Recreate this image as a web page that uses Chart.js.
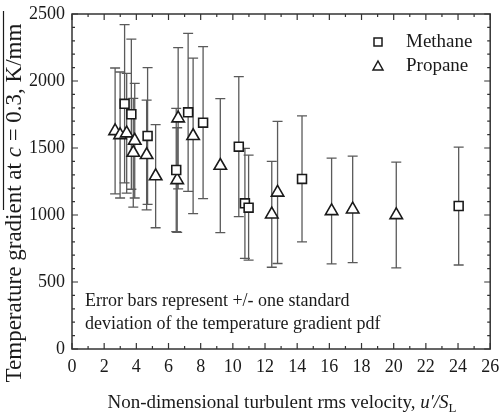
<!DOCTYPE html>
<html><head><meta charset="utf-8">
<script src="https://cdn.jsdelivr.net/npm/chart.js@4.4.0/dist/chart.umd.min.js"></script>
<style>html,body{margin:0;padding:0;background:#fff;}</style>
</head><body>
<canvas id="c" width="499" height="416"></canvas>
<script>
// ---- data ----
const methaneX  = [3.27, 3.69, 4.70, 6.48, 7.22, 8.15, 10.37, 10.75, 10.98, 14.30, 24.04];
const methaneY  = [1830, 1752, 1590, 1336, 1766, 1689, 1510, 1087, 1055, 1269, 1067];
const methaneSD = [590, 560, 510, 460, 590, 567, 522, 410, 392, 470, 440];

const propaneX  = [2.68, 2.99, 3.40, 3.81, 3.90, 4.64, 5.20, 6.54, 6.60, 7.53, 9.22, 12.42, 12.78, 16.14, 17.45, 20.16];
const propaneY  = [1627, 1597, 1610, 1465, 1555, 1448, 1290, 1261, 1722, 1590, 1368, 1005, 1168, 1030, 1042, 1000];
const propaneSD = [470, 470, 447, 406, 428, 410, 385, 390, 527, 580, 500, 395, 530, 395, 397, 395];

const seriesNames = ['Methane', 'Propane'];
const xTickMax = 26, xTickStep = 2;
const yTickMax = 2500, yTickStep = 500;
const noteLines = ['Error bars represent +/- one standard', 'deviation of the temperature gradient pdf'];

const SERIF = '"Liberation Serif", "Times New Roman", serif';
const INK = '#1a1a1a';

const pts = (xs, ys) => xs.map((v, i) => ({x: v, y: ys[i]}));

const decor = {
  id: 'decor',
  beforeDatasetsDraw(chart) {
    const {ctx, scales: {x, y}} = chart;
    ctx.save();
    ctx.strokeStyle = '#5a5a5a';
    ctx.lineWidth = 1.3;
    chart.data.datasets.forEach(ds => {
      ds.data.forEach((p, i) => {
        const px = x.getPixelForValue(p.x);
        const t = y.getPixelForValue(p.y + ds.errors[i]);
        const b = y.getPixelForValue(p.y - ds.errors[i]);
        ctx.beginPath();
        ctx.moveTo(px, t); ctx.lineTo(px, b);
        ctx.moveTo(px - 5, t); ctx.lineTo(px + 5, t);
        ctx.moveTo(px - 5, b); ctx.lineTo(px + 5, b);
        ctx.stroke();
      });
    });
    ctx.restore();
  },
  afterDraw(chart) {
    const {ctx, chartArea: a, scales: {x, y}} = chart;
    ctx.save();
    // frame
    ctx.strokeStyle = '#333';
    ctx.lineWidth = 1.5;
    ctx.strokeRect(a.left, a.top, a.right - a.left, a.bottom - a.top);
    // inward ticks
    ctx.lineWidth = 1.2;
    ctx.beginPath();
    for (let v = 0; v <= xTickMax; v += 1) {
      const px = x.getPixelForValue(v);
      const len = (v % xTickStep === 0) ? 6 : 3;
      ctx.moveTo(px, a.bottom); ctx.lineTo(px, a.bottom - len);
      ctx.moveTo(px, a.top); ctx.lineTo(px, a.top + len);
    }
    for (let v = 0; v <= yTickMax; v += 100) {
      const py = y.getPixelForValue(v);
      const len = (v % yTickStep === 0) ? 6 : 3;
      ctx.moveTo(a.left, py); ctx.lineTo(a.left + len, py);
      ctx.moveTo(a.right, py); ctx.lineTo(a.right - len, py);
    }
    ctx.stroke();

    // legend
    ctx.fillStyle = INK;
    ctx.strokeStyle = INK;
    ctx.lineWidth = 1.5;
    ctx.font = '19px ' + SERIF;
    ctx.textBaseline = 'middle';
    ctx.textAlign = 'left';
    ctx.strokeRect(374, 38, 8, 8);
    ctx.fillText(seriesNames[0], 406, 42);
    ctx.beginPath();
    ctx.moveTo(378, 61); ctx.lineTo(383, 70); ctx.lineTo(373, 70); ctx.closePath();
    ctx.stroke();
    ctx.fillText(seriesNames[1], 406, 66);

    // note
    ctx.font = '18px ' + SERIF;
    ctx.fillText(noteLines[0], 85, 301);
    ctx.fillText(noteLines[1], 85, 324);

    // x title
    const xy = 403;
    const parts = [
      {t: 'Non-dimensional turbulent rms velocity, ', f: '19px ' + SERIF},
      {t: 'u\u2032/S', f: 'italic 19px ' + SERIF},
    ];
    const subF = '13px ' + SERIF;
    let w = 0;
    parts.forEach(p => { ctx.font = p.f; p.w = ctx.measureText(p.t).width; w += p.w; });
    ctx.font = subF; const subW = ctx.measureText('L').width; w += subW;
    let cx = 282 - w / 2;
    parts.forEach(p => { ctx.font = p.f; ctx.fillText(p.t, cx, xy); cx += p.w; });
    ctx.font = subF; ctx.fillText('L', cx, xy + 6);

    // y title (rotated)
    ctx.translate(15, 203);
    ctx.rotate(-Math.PI / 2);
    const yparts = [
      {t: 'Temperature gradient at ', f: '23px ' + SERIF},
      {t: 'c', f: 'italic 23px ' + SERIF},
      {t: ' = 0.3, K/mm', f: '23px ' + SERIF},
    ];
    let yw = 0;
    yparts.forEach(p => { ctx.font = p.f; p.w = ctx.measureText(p.t).width; yw += p.w; });
    let sx = -yw / 2;
    yparts.forEach(p => { ctx.font = p.f; ctx.fillText(p.t, sx, 0); sx += p.w; });
    ctx.restore();
    // overline segment
    ctx.save();
    ctx.strokeStyle = INK; ctx.lineWidth = 1.2;
    ctx.beginPath(); ctx.moveTo(3.5, 11); ctx.lineTo(3.5, 210); ctx.stroke();
    ctx.restore();
  }
};

new Chart(document.getElementById('c'), {
  type: 'scatter',
  data: {
    datasets: [
      {label: seriesNames[0], data: pts(methaneX, methaneY), errors: methaneSD,
       pointStyle: 'rect', pointRadius: 6.3, pointHoverRadius: 6.3,
       borderColor: INK, backgroundColor: '#fff', pointBorderWidth: 1.6},
      {label: seriesNames[1], data: pts(propaneX, propaneY), errors: propaneSD,
       pointStyle: 'triangle', pointRadius: 7.2, pointHoverRadius: 7.2,
       borderColor: INK, backgroundColor: '#fff', pointBorderWidth: 1.6},
    ]
  },
  options: {
    responsive: false,
    animation: false,
    events: [],
    layout: {padding: {top: 14, right: 8, left: 0, bottom: 0}},
    plugins: {legend: {display: false}, tooltip: {enabled: false}},
    scales: {
      x: {
        type: 'linear', min: 0, max: xTickMax,
        grid: {display: false, drawTicks: false},
        border: {display: false},
        ticks: {stepSize: xTickStep, padding: 7, color: INK, maxRotation: 0,
                font: {family: SERIF, size: 18}, callback: v => String(v)},
        afterFit(s) { s.height = 67; s.paddingLeft = 0; s.paddingRight = 0; }
      },
      y: {
        type: 'linear', min: 0, max: yTickMax,
        grid: {display: false, drawTicks: false},
        border: {display: false},
        ticks: {stepSize: yTickStep, padding: 7, color: INK,
                font: {family: SERIF, size: 18}, callback: v => String(v)},
        afterFit(s) { s.width = 72; s.paddingTop = 0; s.paddingBottom = 0; }
      }
    }
  },
  plugins: [decor]
});
</script>
</body></html>
